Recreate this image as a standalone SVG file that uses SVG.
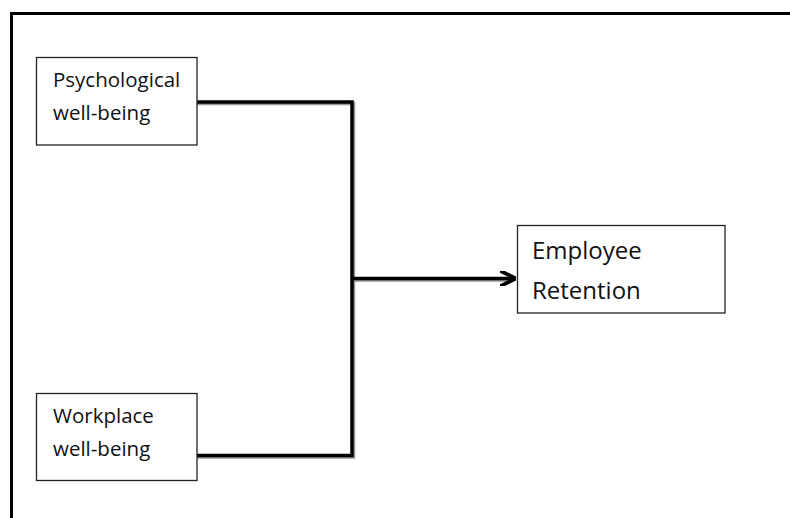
<svg xmlns="http://www.w3.org/2000/svg" width="790" height="518" viewBox="0 0 790 518">
<defs>
<style>
.box{fill:#fff;stroke:#222;stroke-width:1.3}
.t{font-family:"Open Sans","Noto Sans",sans-serif;font-size:20.5px;fill:#111}
.tl{font-family:"Open Sans","Noto Sans",sans-serif;font-size:24px;fill:#111}
.c{fill:none;stroke:#000;stroke-width:3.5}
.sh{fill:none;stroke:#999;stroke-width:3.5}
</style>
<marker id="ah" viewBox="0 0 10 10" refX="9" refY="5" markerWidth="4.5" markerHeight="4.5" orient="auto" markerUnits="strokeWidth">
<path d="M0,0 L10,5 L0,10" fill="none" stroke="#000" stroke-width="2.4"/>
</marker>
</defs>
<rect width="790" height="518" fill="#fff"/>
<path d="M11.5,518 V13.5 H790" fill="none" stroke="#000" stroke-width="3"/>
<g id="connectors">
<path class="sh" d="M197,103.5 H353.5 V457 H197"/>
<path class="sh" d="M353.5,280 H513"/>
<path class="c" d="M197,102 H352 V455.5 H197"/>
<path class="c" d="M352,278.5 H514" marker-end="url(#ah)"/>
</g>
<g id="psychological">
<rect class="box" x="36.5" y="57.5" width="160.5" height="87.5"/>
<text class="t" x="53" y="87">Psychological</text>
<text class="t" x="53" y="120">well-being</text>
</g>
<g id="workplace">
<rect class="box" x="36.5" y="393.5" width="160.5" height="87"/>
<text class="t" x="53" y="423">Workplace</text>
<text class="t" x="53" y="456">well-being</text>
</g>
<g id="retention">
<rect class="box" x="517.5" y="225.5" width="207.5" height="87.5"/>
<text class="tl" x="532" y="259">Employee</text>
<text class="tl" x="532" y="299">Retention</text>
</g>
</svg>
